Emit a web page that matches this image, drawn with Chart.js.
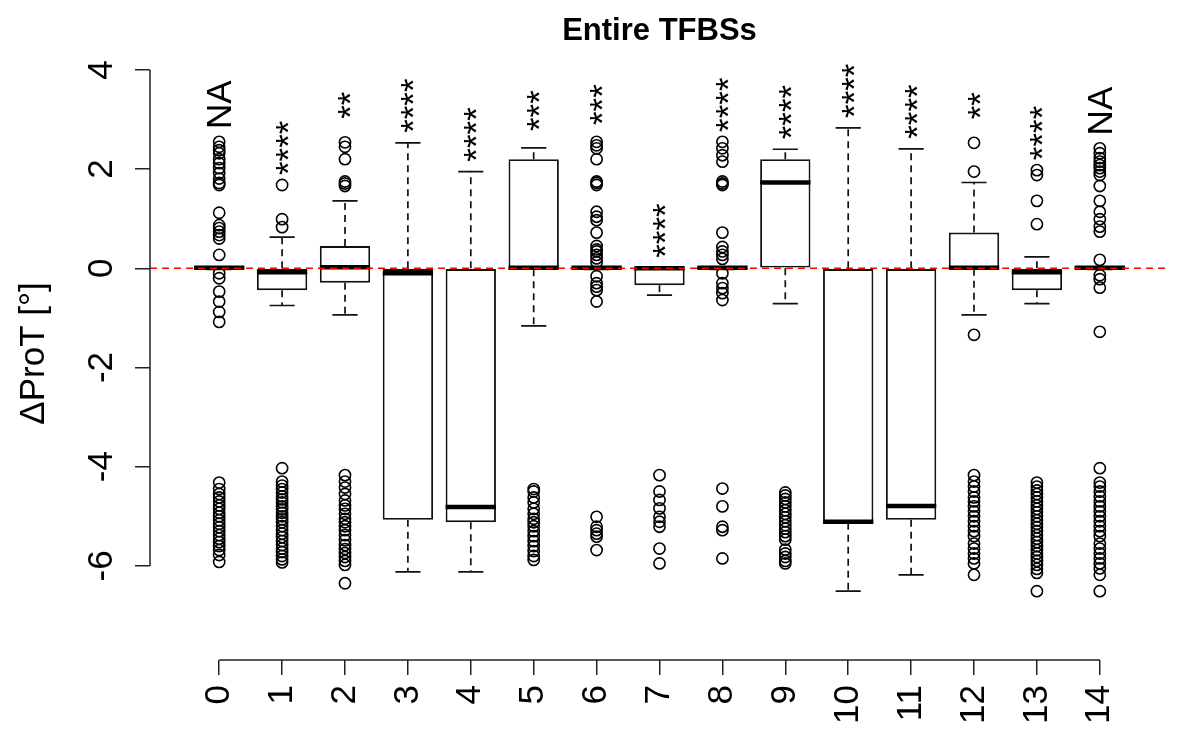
<!DOCTYPE html>
<html>
<head>
<meta charset="utf-8">
<title>Entire TFBSs</title>
<script src="https://cdn.jsdelivr.net/npm/chart.js@4"></script>
<style>
  html, body { margin: 0; padding: 0; background: #fff; }
  #wrap { width: 1200px; height: 750px; }
</style>
</head>
<body>
<div id="wrap"><canvas id="chartBox"></canvas></div>
<script>
const groups = ['0', '1', '2', '3', '4', '5', '6', '7', '8', '9', '10', '11', '12', '13', '14'];
const lowerWhisker = [-0.02, -0.75, -0.94, -6.12, -6.12, -1.16, -0.02, -0.54, -0.02, -0.71, -6.51, -6.18, -0.94, -0.71, -0.02];
const q1 = [-0.02, -0.44, -0.29, -5.07, -5.12, -0.02, -0.02, -0.34, -0.02, 0.0, -5.13, -5.07, -0.01, -0.44, -0.02];
const medians = [0.01, -0.08, 0.02, -0.1, -4.81, 0.01, 0.01, 0.0, 0.01, 1.73, -5.11, -4.79, 0.01, -0.08, 0.01];
const q3 = [0.03, 0.0, 0.45, 0.0, 0.0, 2.2, 0.03, 0.01, 0.03, 2.2, 0.0, 0.0, 0.72, 0.0, 0.03];
const upperWhisker = [0.03, 0.63, 1.36, 2.53, 1.95, 2.43, 0.03, 0.01, 0.03, 2.4, 2.83, 2.41, 1.73, 0.23, 0.03];
const outliers = [
  [2.55, 2.45, 2.38, 2.32, 2.2, 2.12, 2.02, 1.92, 1.81, 1.72, 1.68, 1.12, 0.87, 0.81, 0.74, 0.67, 0.6, 0.27, -0.1, -0.2, -0.47, -0.67, -0.88, -1.08,
   -4.32, -4.45, -4.55, -4.62, -4.7, -4.78, -4.85, -4.93, -5.0, -5.08, -5.15, -5.22, -5.3, -5.38, -5.45, -5.52, -5.6, -5.68, -5.78, -5.92],
  [1.68, 0.99, 0.83, -4.03, -4.3, -4.38, -4.45, -4.52, -4.6, -4.66, -4.72, -4.8, -4.86, -4.93, -5.0, -5.06, -5.12, -5.2, -5.28, -5.35, -5.42,
   -5.5, -5.58, -5.65, -5.72, -5.8, -5.87, -5.93],
  [2.54, 2.45, 2.2, 1.75, 1.71, 1.66, -4.17, -4.3, -4.42, -4.55, -4.68, -4.78, -4.85, -4.95, -5.05, -5.12, -5.2, -5.28, -5.38, -5.48, -5.58,
   -5.66, -5.74, -5.82, -5.9, -5.98, -6.35],
  [],
  [],
  [-4.45, -4.5, -4.62, -4.72, -4.85, -4.95, -5.05, -5.12, -5.2, -5.3, -5.4, -5.5, -5.6, -5.7, -5.8, -5.88],
  [2.55, 2.48, 2.42, 2.2, 1.75, 1.72, 1.68, 1.14, 1.04, 0.97, 0.72, 0.45, 0.38, 0.34, 0.27, 0.2, 0.12, -0.16, -0.3, -0.37, -0.44, -0.67,
   -5.01, -5.21, -5.28, -5.35, -5.41, -5.68],
  [-4.17, -4.5, -4.67, -4.84, -5.01, -5.11, -5.21, -5.65, -5.95],
  [2.55, 2.42, 2.28, 2.15, 1.75, 1.71, 1.68, 0.72, 0.43, 0.34, 0.27, 0.19, -0.1, -0.3, -0.4, -0.5, -0.64, -4.44, -4.8, -5.21, -5.28, -5.85],
  [-4.52, -4.58, -4.65, -4.72, -4.8, -4.88, -4.95, -5.02, -5.1, -5.18, -5.25, -5.32, -5.4, -5.47, -5.67, -5.75, -5.82, -5.9, -5.95],
  [],
  [],
  [2.53, 1.95, -1.34, -4.17, -4.3, -4.4, -4.5, -4.62, -4.7, -4.8, -4.9, -5.0, -5.1, -5.2, -5.3, -5.4, -5.55, -5.65, -5.75, -5.85, -5.95, -6.18],
  [1.98, 1.88, 1.36, 0.89, -4.32, -4.4, -4.48, -4.55, -4.62, -4.7, -4.78, -4.85, -4.92, -5.0, -5.08, -5.15, -5.22, -5.3, -5.38, -5.45, -5.52,
   -5.6, -5.68, -5.75, -5.82, -5.9, -5.98, -6.06, -6.14, -6.51],
  [2.42, 2.32, 2.22, 2.15, 2.08, 2.02, 1.95, 1.88, 1.66, 1.36, 1.14, 0.99, 0.84, 0.74, 0.17, -0.14, -0.22, -0.39, -1.28,
   -4.03, -4.32, -4.4, -4.5, -4.6, -4.7, -4.8, -4.9, -5.0, -5.1, -5.2, -5.3, -5.4, -5.55, -5.65, -5.75, -5.85, -5.95, -6.05, -6.18, -6.51]
];
const signif = ['NA', '****', '**', '****', '****', '***', '***', '****', '****', '****', '****', '****', '**', '****', 'NA'];
const yTicks = [-6, -4, -2, 0, 2, 4];
const xTicks = groups.map((g, i) => i);

const FONT = "'Liberation Sans', Arial, Helvetica, sans-serif";
Chart.defaults.font.family = FONT;
Chart.defaults.color = '#000';

const boxPoints = groups.map((g, i) => ({ x: i, y: [q1[i], q3[i]] }));
const outlierPoints = [];
outliers.forEach((list, i) => list.forEach(v => outlierPoints.push({ x: i, y: v })));

// whiskers, medians, labels, reference line and the short R-style axis lines
const boxplotExtras = {
    id: 'boxplotExtras',
    beforeDatasetsDraw(chart) {
        const ctx = chart.ctx;
        const xs = chart.scales.x;
        const ys = chart.scales.y;
        const bars = chart.getDatasetMeta(1).data;
        ctx.save();
        ctx.strokeStyle = '#111';
        ctx.lineWidth = 1.7;
        groups.forEach((g, i) => {
            const x = xs.getPixelForValue(i);
            const half = bars[i].width / 4;
            ctx.setLineDash([7, 5]);
            ctx.beginPath();
            ctx.moveTo(x, ys.getPixelForValue(q3[i]));
            ctx.lineTo(x, ys.getPixelForValue(upperWhisker[i]));
            ctx.moveTo(x, ys.getPixelForValue(q1[i]));
            ctx.lineTo(x, ys.getPixelForValue(lowerWhisker[i]));
            ctx.stroke();
            ctx.setLineDash([]);
            ctx.beginPath();
            [upperWhisker[i], lowerWhisker[i]].forEach(v => {
                const y = ys.getPixelForValue(v);
                ctx.moveTo(x - half, y);
                ctx.lineTo(x + half, y);
            });
            ctx.stroke();
        });
        ctx.restore();
    },
    afterDatasetsDraw(chart) {
        const ctx = chart.ctx;
        const xs = chart.scales.x;
        const ys = chart.scales.y;
        const area = chart.chartArea;
        const bars = chart.getDatasetMeta(1).data;
        ctx.save();

        // medians
        ctx.strokeStyle = '#000';
        ctx.lineWidth = 4.5;
        groups.forEach((g, i) => {
            const x = xs.getPixelForValue(i);
            const w = bars[i].width / 2;
            const y = ys.getPixelForValue(medians[i]);
            ctx.beginPath();
            ctx.moveTo(x - w, y);
            ctx.lineTo(x + w, y);
            ctx.stroke();
        });

        // significance labels above each group
        ctx.fillStyle = '#000';
        ctx.font = '35px ' + FONT;
        ctx.textAlign = 'center';
        ctx.textBaseline = 'alphabetic';
        groups.forEach((g, i) => {
            const top = Math.max(upperWhisker[i], ...outliers[i]);
            const m = ctx.measureText(signif[i]);
            const inkMid = (m.actualBoundingBoxAscent - m.actualBoundingBoxDescent) / 2;
            ctx.save();
            ctx.translate(xs.getPixelForValue(i) + inkMid, ys.getPixelForValue(top + 0.75));
            ctx.rotate(-Math.PI / 2);
            ctx.fillText(signif[i], 0, 0);
            ctx.restore();
        });

        // red dashed line at zero
        ctx.strokeStyle = '#ff0000';
        ctx.lineWidth = 1.6;
        ctx.setLineDash([7, 5]);
        ctx.beginPath();
        ctx.moveTo(area.left, ys.getPixelForValue(0));
        ctx.lineTo(area.right, ys.getPixelForValue(0));
        ctx.stroke();
        ctx.setLineDash([]);

        // axis lines spanning first to last tick only
        ctx.strokeStyle = '#222';
        ctx.lineWidth = 1.5;
        ctx.beginPath();
        ctx.moveTo(area.left, ys.getPixelForValue(yTicks[0]));
        ctx.lineTo(area.left, ys.getPixelForValue(yTicks[yTicks.length - 1]));
        ctx.moveTo(xs.getPixelForValue(xTicks[0]), area.bottom);
        ctx.lineTo(xs.getPixelForValue(xTicks[xTicks.length - 1]), area.bottom);
        ctx.stroke();
        ctx.restore();
    }
};

new Chart(document.getElementById('chartBox'), {
    type: 'bar',
    data: {
        datasets: [
            {
                type: 'scatter',
                data: outlierPoints,
                pointStyle: 'circle',
                pointRadius: 5.6,
                pointBorderWidth: 1.6,
                pointBorderColor: '#000',
                pointBackgroundColor: 'rgba(0,0,0,0)',
                showLine: false
            },
            {
                type: 'bar',
                data: boxPoints,
                backgroundColor: '#fff',
                borderColor: '#111',
                borderWidth: 1.9,
                borderSkipped: false,
                barPercentage: 1,
                categoryPercentage: 0.8
            }
        ]
    },
    options: {
        responsive: true,
        maintainAspectRatio: false,
        animation: false,
        layout: { padding: { left: 0, right: 31, top: 0, bottom: 0 } },
        plugins: {
            legend: { display: false },
            tooltip: { enabled: false },
            title: {
                display: true,
                text: 'Entire TFBSs',
                fullSize: false,
                color: '#000',
                font: { size: 31, weight: 'bold', lineHeight: 1 },
                padding: { top: 16, bottom: 0 }
            }
        },
        scales: {
            x: {
                type: 'linear',
                min: -1.1,
                max: 15.1,
                offset: false,
                afterBuildTicks: s => { s.ticks = xTicks.map(v => ({ value: v })); },
                afterFit: s => { s.height = 90; },
                border: { display: false },
                grid: { offset: false, drawOnChartArea: false, drawTicks: true, tickLength: 15, color: '#222', lineWidth: 1.5 },
                ticks: {
                    minRotation: 90,
                    maxRotation: 90,
                    padding: 10,
                    color: '#000',
                    font: { size: 35 },
                    callback: v => groups[v]
                }
            },
            y: {
                type: 'linear',
                min: -7.897,
                max: 4.462,
                afterBuildTicks: s => { s.ticks = yTicks.map(v => ({ value: v })); },
                afterFit: s => { s.width = 150; },
                border: { display: false },
                grid: { drawOnChartArea: false, drawTicks: true, tickLength: 15, color: '#222', lineWidth: 1.5 },
                ticks: {
                    minRotation: 90,
                    maxRotation: 90,
                    crossAlign: 'center',
                    padding: 17,
                    color: '#000',
                    font: { size: 35 }
                },
                title: {
                    display: true,
                    text: 'ΔProT [°]',
                    color: '#000',
                    font: { size: 35 },
                    padding: { top: 13, bottom: 0 }
                }
            }
        }
    },
    plugins: [boxplotExtras]
});
</script>
</body>
</html>
